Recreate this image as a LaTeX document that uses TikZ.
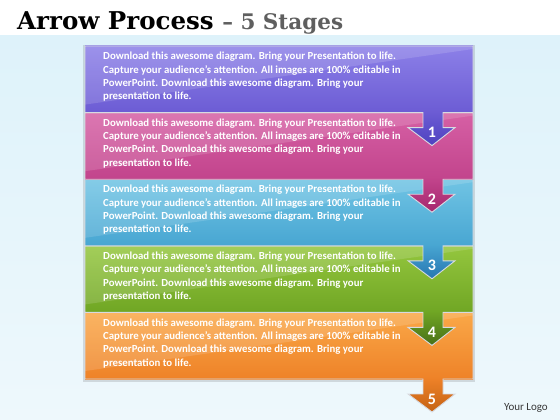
\documentclass[tikz,border=0pt]{standalone}
\usepackage{fontspec}
\setmainfont{Carlito}
\newfontfamily\titlefont{DejaVu Serif}
\begin{document}
\definecolor{bgA}{RGB}{222,242,250}
\definecolor{bgB}{RGB}{238,248,252}
\definecolor{titlegray}{RGB}{95,95,95}
\definecolor{logogray}{RGB}{55,55,55}
\definecolor{edge}{RGB}{215,218,225}
\definecolor{pA}{RGB}{140,128,232}\definecolor{pB}{RGB}{108,92,212}\definecolor{pC}{RGB}{78,66,192}
\definecolor{kA}{RGB}{214,96,165}\definecolor{kB}{RGB}{194,68,140}\definecolor{kC}{RGB}{165,40,110}
\definecolor{bA}{RGB}{112,196,228}\definecolor{bB}{RGB}{72,166,210}\definecolor{bC}{RGB}{38,118,178}
\definecolor{gA}{RGB}{148,198,62}\definecolor{gB}{RGB}{112,166,36}\definecolor{gC}{RGB}{72,112,24}
\definecolor{oA}{RGB}{250,168,72}\definecolor{oB}{RGB}{238,130,40}\definecolor{oC}{RGB}{196,98,20}
\tikzset{
  bandtext/.style={anchor=north west, align=left, text=white, font=\bfseries\fontsize{10.8}{13.3}\selectfont, inner sep=0pt},
  numtext/.style={text=white, font=\bfseries\fontsize{16}{16}\selectfont, inner sep=0pt},
  bandedge/.style={draw=edge, line width=0.9pt, line join=miter}
}
\begin{tikzpicture}[x=1pt,y=-1pt]
\useasboundingbox (0,0) rectangle (560,420);
\fill[white] (0,0) rectangle (560,420);
\shade[top color=bgA, bottom color=bgB] (0,36) rectangle (560,420);
% title
\node[anchor=base west, inner sep=0pt] (title) at (17,30)
  {\titlefont\bfseries\fontsize{24.5}{24}\selectfont Arrow Process \color{titlegray}\fontsize{21.5}{21}\selectfont – 5 Stages};
\node[anchor=base east, inner sep=0pt, text=logogray, font=\fontsize{11}{11}\selectfont] (logo) at (548,410) {Your Logo};
% soft shadow behind stack
\fill[black, opacity=0.12] (83,45) rectangle (475,382);
% bands, bottom to top
\foreach \i/\t/\b/\ca/\cb/\cc in {5/312.4/379/oA/oB/oC, 4/245.8/312.4/gA/gB/gC, 3/179.2/245.8/bA/bB/bC, 2/112.6/179.2/kA/kB/kC, 1/46/112.6/pA/pB/pC}{
  \shade[top color=\ca, bottom color=\cb] (85,\t) rectangle (473,\b);
  \fill[white, opacity=0.14] (85,\t) -- (473,\t) -- (473,\t+3) -- (85,\b-8) -- cycle;
  \shade[top color=\cb, bottom color=\cc] (423,\b-1) -- (443,\b-1) -- (443,\b+15) -- (455,\b+15) -- (432,\b+33) -- (408,\b+15) -- (423,\b+15) -- cycle;
  \draw[bandedge] (85,\t) -- (473,\t) -- (473,\b) -- (443,\b) -- (443,\b+15) -- (455,\b+15) -- (432,\b+33) -- (408,\b+15) -- (423,\b+15) -- (423,\b) -- (85,\b) -- cycle;
  \node[bandtext] (txt\i) at (103,\t+6) {Download this awesome diagram. Bring your Presentation to life.\\Capture your audience’s attention. All images are 100\% editable in\\PowerPoint. Download this awesome diagram. Bring your\\presentation to life.};
  \node[numtext] (num\i) at (432,\b+20) {\i};
}
\end{tikzpicture}
\end{document}
